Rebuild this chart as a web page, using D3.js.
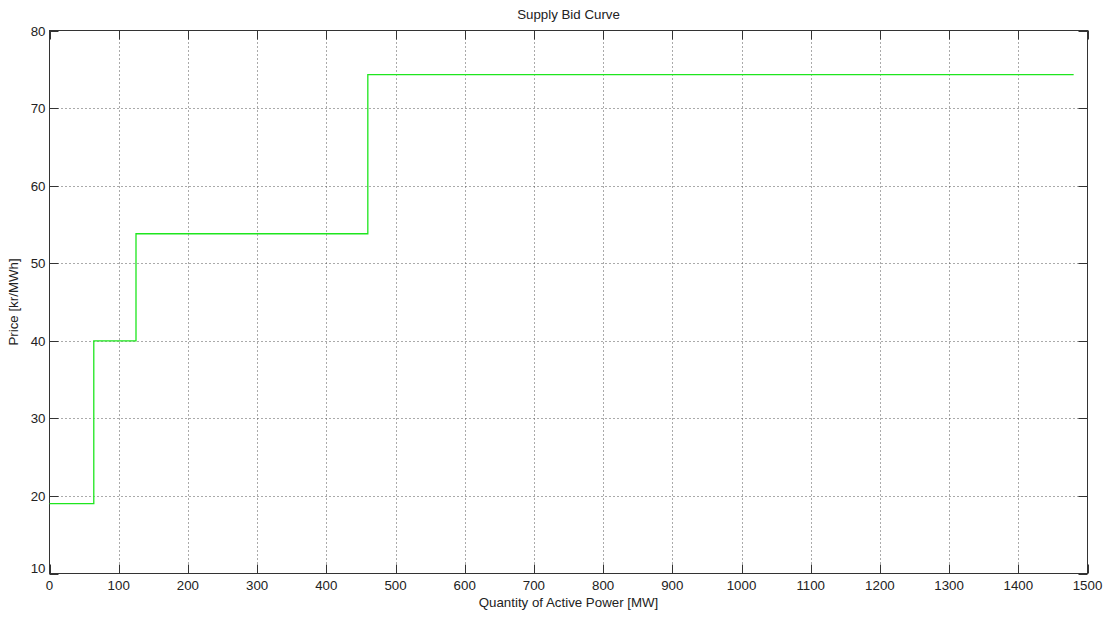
<!DOCTYPE html>
<html><head><meta charset="utf-8">
<script src="https://cdn.jsdelivr.net/npm/d3@7"></script>
<style>
body{margin:0;background:#fff;}
text{font-family:"Liberation Sans",Arial,sans-serif;}
</style></head>
<body><svg id="c" width="1107" height="617"></svg>
<script>
// Step curve breakpoints: quantity (MW) and price (kr/MWh)
const quantities = [0, 64, 64, 125, 125, 460, 460, 1480];
const prices     = [19, 19, 40, 40, 53.8, 53.8, 74.3, 74.3];
const xTicks = [0,100,200,300,400,500,600,700,800,900,1000,1100,1200,1300,1400,1500];
const yTicks = [10,20,30,40,50,60,70,80];
const title = "Supply Bid Curve";
const xLabel = "Quantity of Active Power [MW]";
const yLabel = "Price [kr/MWh]";

const svg = d3.select("#c");
const L=49.5, R=1087.5, T=30.5, B=573.5;
const x = d3.scaleLinear().domain([0,1500]).range([L,R]);
const y = d3.scaleLinear().domain([10,80]).range([B,T]);
const tickLen = 9;
const axisCol = "#333";
const fs = 13.3;

// grid
const g = svg.append("g");
g.selectAll(".gx").data(xTicks.slice(1,-1)).enter().append("line")
  .attr("x1",d=>Math.round(x(d))+0.5).attr("x2",d=>Math.round(x(d))+0.5)
  .attr("y1",T).attr("y2",B)
  .attr("stroke","#555").attr("stroke-width",1).attr("stroke-dasharray","1,3");
g.selectAll(".gy").data(yTicks.slice(1,-1)).enter().append("line")
  .attr("y1",d=>Math.round(y(d))+0.5).attr("y2",d=>Math.round(y(d))+0.5)
  .attr("x1",L).attr("x2",R)
  .attr("stroke","#555").attr("stroke-width",1).attr("stroke-dasharray","1,3");

// ticks (inward, on all four sides)
xTicks.forEach(d=>{
  const px=Math.round(x(d))+0.5;
  g.append("line").attr("x1",px).attr("x2",px).attr("y1",B).attr("y2",B-tickLen).attr("stroke",axisCol);
  g.append("line").attr("x1",px).attr("x2",px).attr("y1",T).attr("y2",T+tickLen).attr("stroke",axisCol);
});
yTicks.forEach(d=>{
  const py=Math.round(y(d))+0.5;
  g.append("line").attr("y1",py).attr("y2",py).attr("x1",L).attr("x2",L+tickLen).attr("stroke",axisCol);
  g.append("line").attr("y1",py).attr("y2",py).attr("x1",R).attr("x2",R-tickLen).attr("stroke",axisCol);
});

// box
svg.append("rect").attr("x",L).attr("y",T).attr("width",R-L).attr("height",B-T)
  .attr("fill","none").attr("stroke",axisCol).attr("stroke-width",1);

// data line
const pts = quantities.map((q,i)=>[q,prices[i]]);
svg.append("path").datum(pts)
  .attr("d", d3.line().x(d=>x(d[0])).y(d=>y(d[1])))
  .attr("fill","none").attr("stroke","#1ee61e").attr("stroke-width",1.3);

// tick labels
svg.selectAll(".xl").data(xTicks).enter().append("text")
  .attr("x",d=>x(d)).attr("y",B+16).attr("text-anchor","middle")
  .attr("font-size",fs).attr("fill","#222").text(d=>d);
svg.selectAll(".yl").data(yTicks).enter().append("text")
  .attr("x",L-4).attr("y",d=>y(d)+(d===10?-1:5)).attr("text-anchor","end")
  .attr("font-size",fs).attr("fill","#222").text(d=>d);

// titles
svg.append("text").attr("x",(L+R)/2).attr("y",19).attr("text-anchor","middle")
  .attr("font-size",fs).attr("fill","#222").text(title);
svg.append("text").attr("x",(L+R)/2).attr("y",607).attr("text-anchor","middle")
  .attr("font-size",fs).attr("fill","#222").text(xLabel);
svg.append("text").attr("transform",`translate(18,${(T+B)/2}) rotate(-90)`)
  .attr("text-anchor","middle").attr("font-size",fs).attr("fill","#222").text(yLabel);
</script>
</body></html>
